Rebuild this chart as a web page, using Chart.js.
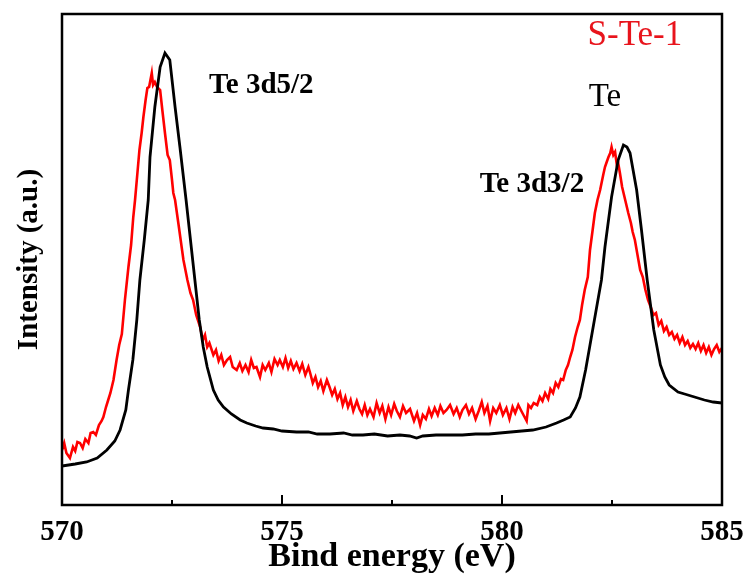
<!DOCTYPE html>
<html>
<head>
<meta charset="utf-8">
<title>Te 3d XPS</title>
<script src="https://cdn.jsdelivr.net/npm/chart.js@4.4.1/dist/chart.umd.min.js"></script>
<style>
  html, body { margin: 0; padding: 0; background: #fff; }
  #wrap { width: 747px; height: 578px; }
</style>
</head>
<body>
<div id="wrap"><canvas id="xpsChart" width="747" height="578"></canvas></div>
<script>
// x axis: binding energy (eV), tick labels
const xTicks = [570, 575, 580, 585];

// Te (black curve)
const teEnergy = [
  570.0, 570.3, 570.56, 570.8, 571.02, 571.2, 571.32, 571.45, 571.51, 571.61,
  571.7, 571.77, 571.87, 571.96, 572.0, 572.11, 572.23, 572.34, 572.45, 572.57,
  572.68, 572.82, 573.02, 573.12, 573.21, 573.3, 573.44, 573.55, 573.67, 573.85,
  574.05, 574.2, 574.4, 574.57, 574.8, 575.0, 575.33, 575.6, 575.8, 576.09,
  576.4, 576.6, 576.84, 577.1, 577.4, 577.68, 577.9, 578.06, 578.2, 578.5,
  578.82, 579.1, 579.4, 579.7, 579.95, 580.2, 580.45, 580.7, 581.0, 581.24,
  581.4, 581.55, 581.67, 581.77, 581.9, 582.0, 582.1, 582.2, 582.26, 582.34,
  582.49, 582.64, 582.76, 582.84, 582.91, 583.06, 583.17, 583.3, 583.45, 583.6,
  583.7, 583.8, 584.0, 584.15, 584.3, 584.45, 584.6, 584.8, 585.0
];
const teIntensity = [
  39, 41, 43, 47, 55, 64, 75, 95, 115, 145,
  185, 225, 265, 305, 348, 398, 438, 452, 445, 398,
  358, 305, 225, 185, 158, 138, 115, 105, 98, 91,
  85, 82, 79, 77, 76, 74, 73, 73, 71, 71,
  72, 70, 70, 71, 69, 70, 69, 67, 69, 70,
  70, 70, 71, 71, 72, 73, 74, 75, 78, 82,
  85, 88, 97, 108, 135, 160, 185, 210, 225, 258,
  308, 345, 360, 358, 352, 315, 275, 225, 175, 140,
  128, 120, 113, 111, 109, 107, 105, 103, 102
];

// S-Te-1 (red curve)
const steEnergy = [
  570.0, 570.05, 570.1, 570.18, 570.25, 570.3, 570.35, 570.41, 570.47, 570.53,
  570.6, 570.65, 570.71, 570.77, 570.84, 570.9, 570.94, 571.0, 571.05, 571.1,
  571.17, 571.24, 571.3, 571.36, 571.43, 571.51, 571.57, 571.62, 571.66, 571.71,
  571.76, 571.81, 571.85, 571.9, 571.94, 571.98, 572.01, 572.04, 572.07, 572.11,
  572.16, 572.23, 572.28, 572.34, 572.4, 572.45, 572.5, 572.53, 572.57, 572.65,
  572.76, 572.85, 572.92, 572.98, 573.05, 573.14, 573.2, 573.25, 573.3, 573.35,
  573.44, 573.5, 573.56, 573.62, 573.68, 573.75, 573.82, 573.88, 573.97, 574.04,
  574.1, 574.17, 574.24, 574.3, 574.36, 574.42, 574.5, 574.56, 574.62, 574.7,
  574.76, 574.83, 574.9, 574.95, 575.02, 575.08, 575.14, 575.2, 575.26, 575.33,
  575.4, 575.46, 575.53, 575.6, 575.64, 575.7, 575.76, 575.82, 575.88, 575.94,
  576.02, 576.08, 576.14, 576.2, 576.26, 576.32, 576.38, 576.44, 576.5, 576.56,
  576.62, 576.7, 576.76, 576.82, 576.88, 576.94, 577.0, 577.08, 577.15, 577.22,
  577.28, 577.35, 577.42, 577.48, 577.55, 577.61, 577.68, 577.75, 577.82, 577.91,
  578.0, 578.07, 578.14, 578.2, 578.27, 578.34, 578.4, 578.47, 578.54, 578.6,
  578.67, 578.74, 578.82, 578.9, 578.97, 579.04, 579.1, 579.18, 579.25, 579.32,
  579.4, 579.47, 579.54, 579.6, 579.67, 579.73, 579.8, 579.87, 579.95, 580.02,
  580.1, 580.17, 580.24, 580.3, 580.37, 580.44, 580.5, 580.56, 580.6, 580.66,
  580.72, 580.8, 580.86, 580.92, 580.98, 581.05, 581.1, 581.16, 581.22, 581.28,
  581.34, 581.39, 581.45, 581.5, 581.55, 581.6, 581.66, 581.72, 581.77, 581.82,
  581.88, 581.95, 582.0, 582.06, 582.11, 582.17, 582.23, 582.3, 582.34, 582.38,
  582.42, 582.46, 582.49, 582.53, 582.57, 582.61, 582.64, 582.68, 582.73, 582.8,
  582.87, 582.93, 582.97, 583.02, 583.08, 583.14, 583.2, 583.26, 583.32, 583.38,
  583.44, 583.5, 583.56, 583.62, 583.68, 583.74, 583.8, 583.86, 583.92, 583.98,
  584.04, 584.1, 584.16, 584.22, 584.28, 584.34, 584.4, 584.46, 584.52, 584.58,
  584.64, 584.7, 584.76, 584.82, 584.88, 584.94, 585.0
];
const steIntensity = [
  55, 62, 52, 47, 58, 54, 63, 62, 57, 66,
  62, 72, 73, 70, 80, 84, 88, 98, 105, 112,
  125, 145, 160, 171, 205, 238, 260, 288, 305, 330,
  355, 372, 388, 405, 417, 418, 425, 432, 420, 423,
  418, 415, 395, 372, 350, 345, 325, 312, 305, 280,
  245, 225, 212, 205, 190, 178, 165, 170, 158, 162,
  150, 155, 144, 150, 140, 145, 148, 138, 135, 142,
  134, 140, 133, 145, 137, 138, 128, 140, 135, 142,
  133, 146, 140, 145, 138, 147, 137, 144, 136, 142,
  134, 141, 130, 138, 132, 122, 128, 118, 124, 114,
  125, 118, 110, 116, 106, 112, 100, 108, 98, 105,
  94, 104, 96, 91, 100, 90, 96, 88, 102, 92,
  99, 86, 98, 90, 101, 94, 88, 99, 92, 96,
  84, 92, 80, 90, 86, 96, 89, 97, 90, 99,
  92, 95, 100, 91, 97, 88, 95, 100, 91, 97,
  86, 94, 103, 92, 99, 84, 97, 92, 100, 90,
  97, 86, 98, 92, 100, 94, 89, 84, 100, 97,
  102, 100, 108, 104, 112, 106, 116, 112, 122, 118,
  126, 125, 135, 140, 148, 155, 168, 178, 185, 200,
  215, 228, 255, 275, 292, 305, 315, 330, 338, 343,
  348, 352, 358, 350, 353, 340, 342, 332, 318, 305,
  292, 282, 273, 265, 250, 235, 228, 215, 205, 198,
  190, 192, 180, 184, 174, 178, 170, 173, 166, 170,
  162, 168, 160, 164, 157, 161, 156, 162, 154, 160,
  152, 158, 150, 156, 160, 153, 157
];

const SERIF = "'Liberation Serif', 'Times New Roman', serif";

function toPoints(xs, ys) {
  return xs.map((x, i) => ({ x: x, y: ys[i] }));
}

// text labels, placed in data units
const notes = [
  { text: 'Te 3d5/2', x: 574.53, y: 419, color: '#000', font: 'bold 29px ' + SERIF },
  { text: 'Te 3d3/2', x: 580.68, y: 320, color: '#000', font: 'bold 29px ' + SERIF },
  { text: 'Te', x: 582.34, y: 408, color: '#000', font: '33px ' + SERIF },
  { text: 'S-Te-1', x: 583.02, y: 469, color: '#e8141c', font: '35px ' + SERIF }
];

// box frame + inward ticks on the bottom axis
const frameAndTicks = {
  id: 'frameAndTicks',
  afterDatasetsDraw(chart) {
    const { ctx, chartArea: a, scales: { x } } = chart;
    ctx.save();
    ctx.strokeStyle = '#000';
    ctx.lineWidth = 2;
    for (let i = 0; i < xTicks.length; i++) {
      const px = x.getPixelForValue(xTicks[i]);
      ctx.beginPath();
      ctx.moveTo(px, a.bottom);
      ctx.lineTo(px, a.bottom - 10);
      ctx.stroke();
      if (i < xTicks.length - 1) {
        const mx = x.getPixelForValue((xTicks[i] + xTicks[i + 1]) / 2);
        ctx.beginPath();
        ctx.moveTo(mx, a.bottom);
        ctx.lineTo(mx, a.bottom - 5);
        ctx.stroke();
      }
    }
    ctx.lineWidth = 2.5;
    ctx.strokeRect(a.left, a.top, a.right - a.left, a.bottom - a.top);
    ctx.restore();
  },
  afterDraw(chart) {
    const { ctx, scales: { x, y } } = chart;
    ctx.save();
    ctx.textAlign = 'center';
    ctx.textBaseline = 'middle';
    notes.forEach(n => {
      ctx.font = n.font;
      ctx.fillStyle = n.color;
      ctx.fillText(n.text, x.getPixelForValue(n.x), y.getPixelForValue(n.y));
    });
    ctx.restore();
  }
};

const ctx = document.getElementById('xpsChart').getContext('2d');
new Chart(ctx, {
  type: 'scatter',
  data: {
    datasets: [
      {
        label: 'Te',
        data: toPoints(teEnergy, teIntensity),
        showLine: true,
        borderColor: '#000',
        borderWidth: 2.8,
        pointRadius: 0
      },
      {
        label: 'S-Te-1',
        data: toPoints(steEnergy, steIntensity),
        showLine: true,
        borderColor: '#ff0000',
        borderWidth: 2.6,
        pointRadius: 0
      }
    ]
  },
  options: {
    responsive: false,
    animation: false,
    layout: { padding: { top: 14, right: 25, left: 0, bottom: 0 } },
    plugins: {
      legend: { display: false },
      tooltip: { enabled: false }
    },
    elements: { line: { tension: 0 } },
    scales: {
      x: {
        type: 'linear',
        min: 570,
        max: 585,
        grid: { display: false, drawTicks: false },
        border: { display: false },
        ticks: {
          stepSize: 5,
          padding: 10,
          maxRotation: 0,
          color: '#000',
          font: { family: SERIF, size: 29, weight: 'bold' }
        },
        title: {
          display: true,
          text: 'Bind energy (eV)',
          color: '#000',
          padding: { top: 0, bottom: 0 },
          font: { family: SERIF, size: 34, weight: 'bold' }
        },
        afterFit(scale) {
          scale.height = 73;
          scale.paddingLeft = 0;
          scale.paddingRight = 0;
        }
      },
      y: {
        min: 0,
        max: 491,
        grid: { display: false, drawTicks: false },
        border: { display: false },
        ticks: { display: false },
        title: {
          display: true,
          text: 'Intensity (a.u.)',
          color: '#000',
          padding: { top: 12, bottom: 0 },
          font: { family: SERIF, size: 29, weight: 'bold' }
        },
        afterFit(scale) { scale.width = 62; }
      }
    }
  },
  plugins: [frameAndTicks]
});
</script>
</body>
</html>
